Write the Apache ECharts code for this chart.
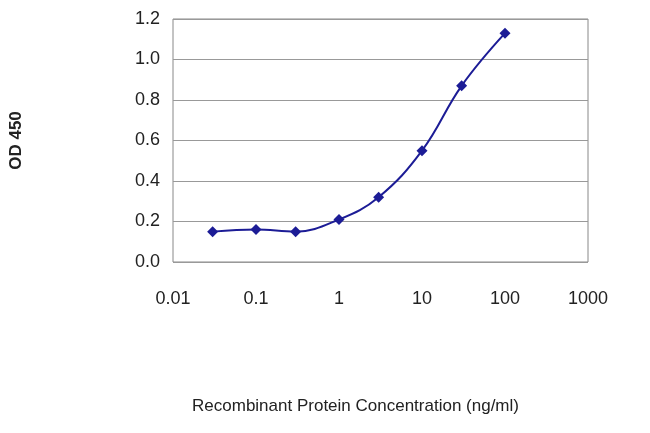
<!DOCTYPE html>
<html><head><meta charset="utf-8">
<script src="https://cdn.jsdelivr.net/npm/echarts@6/dist/echarts.min.js"></script>
<style>body{margin:0}#c{width:650px;height:433px}</style></head>
<body><div id="c"></div>
<script>
const concentrations=[0.03,0.1,0.3,1,3,10,30,100];
const od=[0.15,0.16,0.15,0.21,0.32,0.55,0.87,1.13];
const yTicks=[0,0.2,0.4,0.6,0.8,1.0,1.2];
const chart=echarts.init(document.getElementById('c'));
chart.setOption({
  backgroundColor:'#fff',
  animation:false,
  grid:{left:170,right:62,top:19,bottom:171,show:true,borderColor:'#888',borderWidth:1},
  xAxis:{type:'log',logBase:10,min:0.01,max:1000,
    axisLine:{show:false},axisTick:{show:false},splitLine:{show:false},
    axisLabel:{fontFamily:'Liberation Sans, Arial',fontSize:18,color:'#222',margin:28,
      formatter:v=>String(+v.toPrecision(3))},
    name:'Recombinant Protein Concentration (ng/ml)',nameLocation:'middle',nameGap:136,
    nameTextStyle:{fontFamily:'Liberation Sans, Arial',fontSize:17,color:'#222',padding:[0,50,0,0]}},
  yAxis:{type:'value',min:0,max:1.2,interval:0.2,
    axisLine:{show:false},axisTick:{show:false},
    splitLine:{lineStyle:{color:'#999',width:1}},
    axisLabel:{fontFamily:'Liberation Sans, Arial',fontSize:18,color:'#222',margin:13,
      formatter:v=>v.toFixed(1)},
    name:'OD 450',nameLocation:'middle',nameGap:148,
    nameTextStyle:{fontFamily:'Liberation Sans, Arial',fontSize:17,color:'#222',fontWeight:'bold'}},
  series:[{type:'line',smooth:0.4,data:concentrations.map((c,i)=>[c,od[i]]),
    symbol:'diamond',symbolSize:11,
    lineStyle:{color:'#1c1c96',width:2},itemStyle:{color:'#1c1c96'}}]
});
</script></body></html>
